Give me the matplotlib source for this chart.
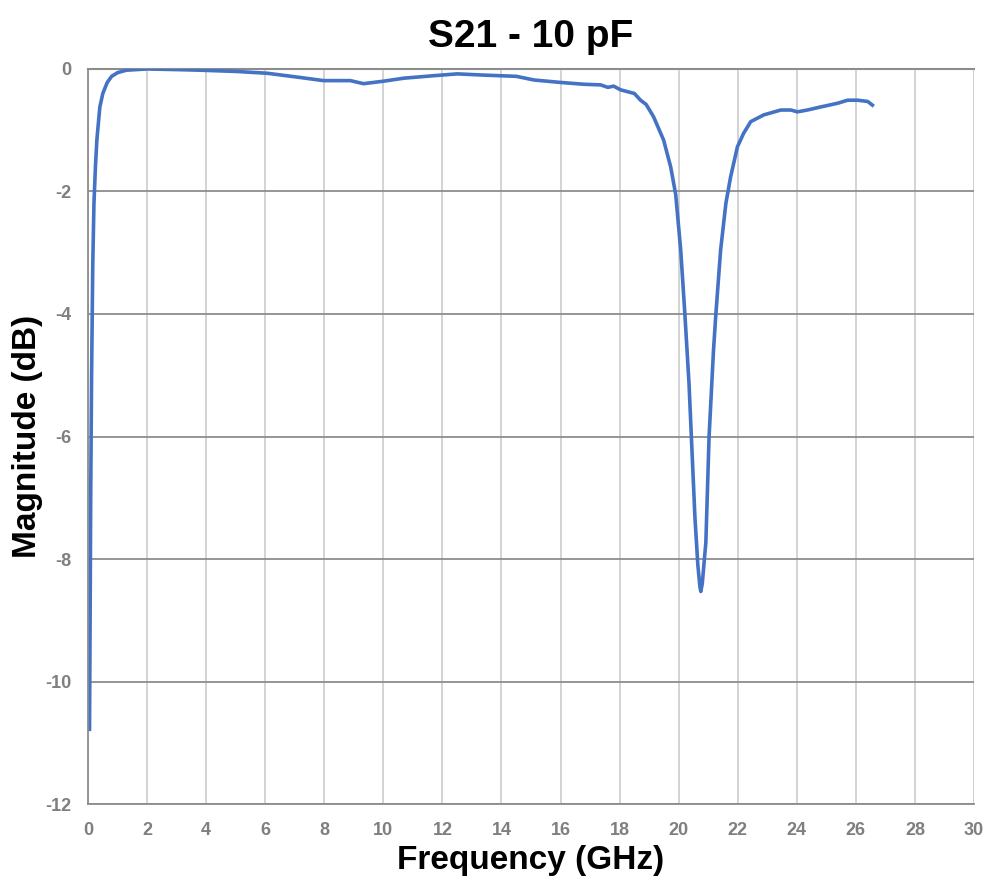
import matplotlib.pyplot as plt
import numpy as np

plt.rcParams['axes.unicode_minus'] = False

# S21 readings (GHz, dB)
freq = [0.05, 0.07, 0.09, 0.12, 0.16, 0.20, 0.25, 0.30, 0.40, 0.50, 0.65, 0.80, 1.0, 1.3,
        2.0, 3.0, 3.8, 5.0, 6.07, 7.2, 7.97, 8.88, 9.33, 10.0, 10.7, 11.7, 12.5, 13.4,
        14.5, 15.1, 16.0, 16.8, 17.36, 17.6, 17.8, 18.03, 18.5, 18.71, 18.9, 19.15,
        19.49, 19.73, 19.9, 20.07, 20.21, 20.35, 20.43, 20.55, 20.65, 20.72, 20.75,
        20.80, 20.88, 20.92, 21.03, 21.18, 21.26, 21.42, 21.6, 21.76, 21.99, 22.2,
        22.44, 22.88, 23.46, 23.8, 24.02, 24.36, 24.81, 25.38, 25.72, 26.06, 26.4, 26.56]
mag = [-10.78, -9.0, -7.0, -5.0, -3.2, -2.2, -1.6, -1.15, -0.62, -0.40, -0.22, -0.12,
       -0.06, -0.02, 0.0, -0.01, -0.02, -0.04, -0.07, -0.14, -0.19, -0.19, -0.24, -0.20,
       -0.15, -0.11, -0.08, -0.10, -0.12, -0.18, -0.22, -0.25, -0.26, -0.30, -0.28,
       -0.34, -0.40, -0.51, -0.58, -0.78, -1.16, -1.6, -2.05, -2.96, -4.0, -5.13,
       -6.0, -7.31, -8.1, -8.45, -8.53, -8.40, -7.95, -7.74, -6.0, -4.59, -4.0, -2.96,
       -2.19, -1.76, -1.27, -1.05, -0.86, -0.75, -0.67, -0.67, -0.70, -0.67, -0.62,
       -0.56, -0.51, -0.51, -0.53, -0.59]

xticks = list(range(0, 31, 2))
yticks = list(range(-12, 1, 2))

fig = plt.figure(figsize=(9.87, 8.82), dpi=100)
ax = fig.add_axes([0.0892, 0.0884, 0.8976, 0.8334])

ax.plot(freq, mag, color='#4472C4', lw=2.6, solid_joinstyle='round')

ax.set_xlim(0, 30)
ax.set_ylim(-12, 0)
ax.set_xticks(xticks)
ax.set_yticks(yticks)

# vertical grid light, horizontal grid darker (Excel style)
ax.xaxis.grid(True, color='#d0d0d0', lw=1.3)
ax.yaxis.grid(True, color='#8c8c8c', lw=1.3)
ax.set_axisbelow(True)
for s in ['top', 'right']:
    ax.spines[s].set_visible(False)
for s in ['left', 'bottom']:
    ax.spines[s].set_color('#8c8c8c')
    ax.spines[s].set_linewidth(1.3)
ax.axvline(30, color='#d0d0d0', lw=1.3, zorder=0)
ax.axhline(0, color='#8c8c8c', lw=1.5, zorder=0, clip_on=False)

ax.tick_params(length=0, labelsize=13, labelcolor='#7f7f7f')
ax.tick_params(axis='y', pad=12)
ax.tick_params(axis='x', pad=13)
for lab in ax.get_xticklabels() + ax.get_yticklabels():
    lab.set_fontweight('bold')
    lab.set_family('Liberation Sans')

ax.set_title('S21 - 10 pF', fontsize=28, fontweight='bold', family='Liberation Sans', pad=16)
ax.set_xlabel('Frequency (GHz)', fontsize=24, fontweight='bold', family='Liberation Sans')
ax.xaxis.set_label_coords(0.5, -0.056)
ax.set_ylabel('Magnitude (dB)', fontsize=24, fontweight='bold', family='Liberation Sans')
ax.yaxis.set_label_coords(-0.051, 0.5)

fig.savefig('out.png', dpi=100, facecolor='white')
